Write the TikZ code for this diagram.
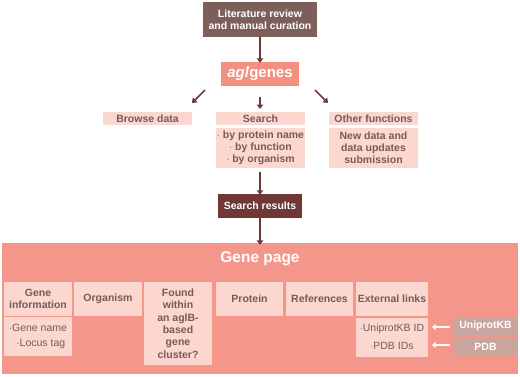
\documentclass[tikz,border=0pt]{standalone}
\usepackage{fontspec}
\setmainfont{Liberation Sans}
\usetikzlibrary{arrows.meta}
\definecolor{topbrown}{HTML}{7D5F5A}
\definecolor{resbrown}{HTML}{6F3835}
\definecolor{arrbrown}{HTML}{6B3A37}
\definecolor{salmon}{HTML}{F3907F}
\definecolor{pagebg}{HTML}{F4978A}
\definecolor{lightpink}{HTML}{FBD7D0}
\definecolor{greybox}{HTML}{C9A59E}
\definecolor{txtbrown}{HTML}{7A5A55}
\tikzset{
  box/.style={inner sep=0pt, align=center, font=\bfseries\fontsize{10.5}{12}\selectfont},
  lightbox/.style={box, fill=lightpink, text=txtbrown},
  listbox/.style={lightbox, font=\fontsize{10.5}{15.5}\selectfont},
  darkbox/.style={box, text=white},
  arr/.style={draw=arrbrown, line width=1.7pt, -{Triangle[length=4.5pt,width=6.5pt]}},
  warr/.style={draw=white, line width=1.8pt, -{Triangle[length=3.5pt,width=6pt]}},
}
\begin{document}
\begin{tikzpicture}[x=1pt,y=-1pt]
\useasboundingbox (0,0) rectangle (520,376);
\node[darkbox, fill=topbrown, minimum width=114pt, minimum height=35pt, font=\bfseries\fontsize{10.5}{12.5}\selectfont] (lit) at (260,19.5) {Literature review\\and manual curation};
\node[darkbox, fill=salmon, minimum width=78pt, minimum height=24pt, font=\bfseries\fontsize{15}{17}\selectfont] (agl) at (260,74) {\textit{agl}genes};
\node[lightbox, minimum width=89pt, minimum height=13pt] (browse) at (147.5,118.5) {Browse data};
\node[lightbox, minimum width=89pt, minimum height=13pt] (search) at (260.5,118.5) {Search};
\node[lightbox, minimum width=89pt, minimum height=40pt, font=\bfseries\fontsize{10.5}{12}\selectfont] (slist) at (260.5,148) {$\cdot$ by protein name\\$\cdot$ by function\\$\cdot$ by organism};
\node[lightbox, minimum width=89pt, minimum height=13pt] (other) at (373.5,118.5) {Other functions};
\node[lightbox, minimum width=89pt, minimum height=40pt, font=\bfseries\fontsize{10.5}{12}\selectfont] (olist) at (373.5,148) {New data and\\data updates\\submission};
\node[darkbox, fill=resbrown, minimum width=84pt, minimum height=24pt] (res) at (260,206) {Search results};
\node[box, fill=pagebg, minimum width=516pt, minimum height=131pt] (page) at (260,308.5) {};
\node[darkbox, font=\bfseries\fontsize{15.5}{17}\selectfont] (ptitle) at (260,259) {Gene page};
\node[lightbox, minimum width=68pt, minimum height=34pt] (ginfo) at (38,299) {Gene\\information};
\node[listbox, minimum width=68pt, minimum height=39pt] (glist) at (38,336.5) {$\cdot$Gene name\\\ \ $\cdot$Locus tag};
\node[lightbox, minimum width=68pt, minimum height=34pt] (org) at (108,299) {Organism};
\node[lightbox, minimum width=68pt, minimum height=83pt, font=\bfseries\fontsize{10.5}{12.3}\selectfont] (found) at (178,323.5) {Found\\within\\an aglB-\\based\\gene\\cluster?};
\node[lightbox, minimum width=67pt, minimum height=34pt] (prot) at (249.5,299) {Protein};
\node[lightbox, minimum width=67pt, minimum height=34pt] (refs) at (319.5,299) {References};
\node[lightbox, minimum width=72pt, minimum height=34pt] (ext) at (392,299) {External links};
\node[listbox, minimum width=72pt, minimum height=39pt, font=\fontsize{10.5}{18}\selectfont] (elist) at (392,337) {$\cdot$UniprotKB ID\\$\cdot$PDB IDs};
\node[darkbox, fill=greybox, minimum width=65pt, minimum height=18pt] (uni) at (485.5,326) {UniprotKB};
\node[darkbox, fill=greybox, minimum width=65pt, minimum height=17pt] (pdb) at (485.5,346.5) {PDB};
\coordinate (la1) at (205,90);
\coordinate (la2) at (192,103);
\coordinate (ra1) at (315,90);
\coordinate (ra2) at (328,103);
\coordinate (ma1) at (260,97);
\coordinate (ma2) at (260,109);
\coordinate (sa1) at (260,172);
\coordinate (u2) at (432,327);
\coordinate (p2) at (432,345);
\draw[arr] (lit.south) -- ([yshift=-1pt]agl.north);
\draw[arr] (la1) -- (la2);
\draw[arr] (ma1) -- (ma2);
\draw[arr] (ra1) -- (ra2);
\draw[arr] (sa1) -- ([yshift=-1pt]res.north);
\draw[arr] (res.south) -- ([yshift=-2pt]page.north);
\draw[warr] ([xshift=-3pt]uni.west |- u2) -- (u2);
\draw[warr] ([xshift=-3pt]pdb.west |- p2) -- (p2);
\end{tikzpicture}
\end{document}
